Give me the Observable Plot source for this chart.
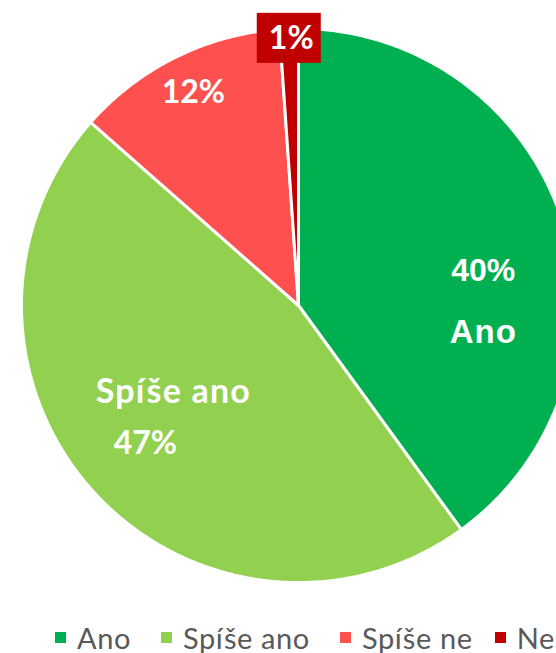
<!DOCTYPE html>
<html>
<head>
<meta charset="utf-8">
<script src="https://cdn.jsdelivr.net/npm/d3@7"></script>
<script src="https://cdn.jsdelivr.net/npm/@observablehq/plot@0.6"></script>
<style>
  html, body { margin: 0; padding: 0; background: #fff; overflow: hidden; }
  #wrap { position: relative; width: 556px; height: 653px; overflow: hidden; }
  #legend { position: absolute; left: 55px; top: 621px; height: 32px; display: flex; align-items: center;
            white-space: nowrap; font-family: Lato, "Open Sans", sans-serif; font-size: 29px; letter-spacing: 0.6px; color: #595959; }
  #legend .item { display: flex; align-items: center; margin-right: 30px; }
  #legend .item:nth-child(3) { margin-right: 22px; }
  #legend .sw { width: 11px; height: 11px; margin-right: 11px; flex: none; }
</style>
</head>
<body>
<div id="wrap"></div>
<script>
// ---- data ----
const categories = ["Ano", "Spíše ano", "Spíše ne", "Ne"];
const values = [40.0, 46.5, 12.4, 1.1];
const percentLabels = ["40%", "47%", "12%", "1%"];
const colors = ["#00B050", "#92D050", "#FF5050", "#C00000"];

// ---- layout ----
const W = 556, H = 600;
const cx = 298, cy = 305, R = 277;

const total = d3.sum(values);
const deg = Math.PI / 180;
let acc = 0;
const slices = categories.map((cat, i) => {
  const a0 = acc / total * 360;
  acc += values[i];
  const a1 = acc / total * 360;
  return {cat, value: values[i], label: percentLabels[i], a0, a1, mid: (a0 + a1) / 2};
});

// polygon points for each slice (angle measured clockwise from 12 o'clock)
const pts = [];
for (const s of slices) {
  pts.push({cat: s.cat, x: 0, y: 0});
  const n = Math.max(2, Math.ceil((s.a1 - s.a0) / 0.5));
  for (let k = 0; k <= n; k++) {
    const a = (s.a0 + (s.a1 - s.a0) * k / n) * deg;
    pts.push({cat: s.cat, x: Math.sin(a), y: Math.cos(a)});
  }
}

const polar = (angleDeg, r) => ({x: r * Math.sin(angleDeg * deg), y: r * Math.cos(angleDeg * deg)});
const byCat = Object.fromEntries(slices.map(s => [s.cat, s]));

// label anchors (manually placed data labels, like in the original)
const sAno = byCat["Ano"], sSa = byCat["Spíše ano"], sSn = byCat["Spíše ne"], sNe = byCat["Ne"];
const pAno = polar(sAno.mid + 16.75, 0.667);
const pSa = polar(sSa.mid, 0.64);
const pSn = polar(sSn.mid, 0.857);
const pNe = polar(sNe.mid, 0.965);

const boldArial = {fill: "white", fontWeight: "bold", fontFamily: "'Liberation Sans', Arial, sans-serif", fontSize: 32, textAnchor: "middle", lineAnchor: "middle"};
const boldGill = {fill: "white", fontWeight: "bold", fontFamily: "Lato, 'Open Sans', sans-serif", fontSize: 32, textAnchor: "middle", lineAnchor: "middle"};

const chart = Plot.plot({
  width: W, height: H,
  margin: 0,
  x: {domain: [-cx / R, (W - cx) / R], axis: null},
  y: {domain: [-(H - cy) / R, cy / R], axis: null},
  color: {domain: categories, range: colors},
  style: {background: "white", overflow: "hidden"},
  marks: [
    Plot.line(pts, {x: "x", y: "y", z: "cat", fill: "cat", stroke: "white", strokeWidth: 3, strokeLinejoin: "miter", curve: "linear-closed", clip: true}),
    // Ano
    Plot.text([sAno], {...boldArial, x: () => pAno.x, y: () => pAno.y, text: d => d.label, dy: -31}),
    Plot.text([sAno], {...boldArial, fontSize: 33, x: () => pAno.x, y: () => pAno.y, text: d => d.cat, dy: 31}),
    // Spíše ano
    Plot.text([sSa], {...boldGill, fontSize: 34, x: () => pSa.x, y: () => pSa.y, text: d => d.cat, dx: 6, dy: -33}),
    Plot.text([sSa], {...boldGill, x: () => pSa.x, y: () => pSa.y, text: d => d.label, dx: -22, dy: 19}),
    // Spíše ne
    Plot.text([sSn], {...boldGill, x: () => pSn.x, y: () => pSn.y, text: d => d.label}),
    // Ne: label with a dark red box
    Plot.rect([sNe], {x1: () => pNe.x, x2: () => pNe.x, y1: () => pNe.y, y2: () => pNe.y,
      insetLeft: -32, insetRight: -32, insetTop: -25, insetBottom: -25, fill: "#C00000"}),
    Plot.text([sNe], {...boldGill, x: () => pNe.x, y: () => pNe.y, text: d => d.label, dx: 2})
  ]
});

// letter spacing for the labels set in the (wider) original typeface
chart.querySelectorAll("text").forEach(t => {
  if (t.textContent === "Spíše ano") t.setAttribute("letter-spacing", "1.2");
  if (t.textContent === "Ano") t.setAttribute("letter-spacing", "1");
});

const wrap = document.getElementById("wrap");
wrap.appendChild(chart);

const legend = document.createElement("div");
legend.id = "legend";
categories.forEach((c, i) => {
  const item = document.createElement("div");
  item.className = "item";
  const sw = document.createElement("span");
  sw.className = "sw";
  sw.style.background = colors[i];
  const t = document.createElement("span");
  t.textContent = c;
  item.appendChild(sw);
  item.appendChild(t);
  legend.appendChild(item);
});
wrap.appendChild(legend);
</script>
</body>
</html>
